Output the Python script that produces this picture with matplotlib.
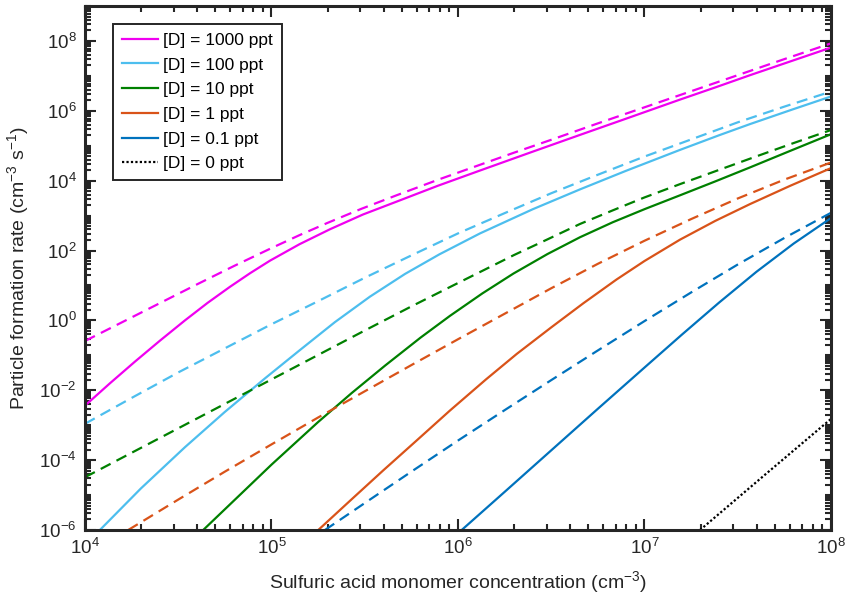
import numpy as np
import matplotlib
matplotlib.use("Agg")
import matplotlib.pyplot as plt
from matplotlib.ticker import LogLocator, NullFormatter

plt.rcParams['font.family'] = ['Liberation Sans', 'DejaVu Sans']
plt.rcParams['mathtext.default'] = 'regular'

# values, stored as log10 (x = H2SO4 conc, y = J)
# [D] = 1000 ppt
lx_1000 = [4.0, 4.134, 4.268, 4.402, 4.536, 4.657, 4.777, 4.885, 4.992, 5.15, 5.314, 5.49,
           5.671, 5.89, 6.118, 6.39, 6.654, 6.92, 7.19, 7.38, 7.566, 7.78, 8.0]
ly_1000 = [-2.44, -1.80, -1.18, -0.58, 0.0, 0.50, 0.96, 1.35, 1.71, 2.18, 2.61, 3.03,
           3.40, 3.85, 4.29, 4.81, 5.31, 5.81, 6.32, 6.67, 7.02, 7.41, 7.81]
lx_1000d = [4.0, 4.2, 4.4, 4.6, 4.8, 5.0, 5.15, 5.3, 5.48, 5.67, 5.9, 6.1, 6.3, 6.5,
            6.75, 7.0, 7.25, 7.5, 7.75, 8.0]
ly_1000d = [-0.59, -0.05, 0.49, 1.03, 1.56, 2.07, 2.44, 2.79, 3.19, 3.58, 4.04, 4.42, 4.80,
            5.17, 5.64, 6.10, 6.56, 7.02, 7.48, 7.93]
# [D] = 100 ppt
lx_100 = [4.08, 4.3, 4.536, 4.75, 4.965, 5.15, 5.34, 5.528, 5.716, 5.9, 6.118, 6.4, 6.654,
          6.9, 7.19, 7.4, 7.566, 7.8, 8.0]
ly_100 = [-6.0, -4.81, -3.63, -2.62, -1.66, -0.86, -0.05, 0.68, 1.33, 1.89, 2.49, 3.18, 3.75,
          4.28, 4.88, 5.30, 5.62, 6.05, 6.41]
lx_100d = [4.0, 4.25, 4.5, 4.75, 5.0, 5.25, 5.5, 5.75, 6.0, 6.25, 6.5, 6.75, 7.0, 7.25,
           7.5, 7.75, 8.0]
ly_100d = [-2.96, -2.22, -1.49, -0.80, -0.11, 0.55, 1.22, 1.86, 2.49, 3.07, 3.64, 4.17, 4.69,
           5.18, 5.67, 6.12, 6.55]
# [D] = 10 ppt
lx_10 = [4.634, 4.82, 5.0, 5.25, 5.43, 5.61, 5.8, 5.957, 6.13, 6.297, 6.48, 6.654, 6.83,
         7.003, 7.19, 7.38, 7.566, 7.78, 8.0]
ly_10 = [-6.0, -5.05, -4.13, -2.91, -2.08, -1.29, -0.49, 0.13, 0.77, 1.34, 1.90, 2.38, 2.81,
         3.19, 3.58, 3.98, 4.38, 4.85, 5.33]
lx_10d = [4.0, 4.25, 4.5, 4.75, 5.0, 5.25, 5.5, 5.75, 6.0, 6.15, 6.3, 6.48, 6.654, 6.83,
          7.0, 7.19, 7.38, 7.566, 7.78, 8.0]
ly_10d = [-4.49, -3.79, -3.09, -2.39, -1.69, -0.99, -0.29, 0.40, 1.07, 1.47, 1.87, 2.32, 2.76,
          3.15, 3.52, 3.90, 4.27, 4.63, 5.04, 5.45]
# [D] = 1 ppt
lx_1 = [5.251, 5.43, 5.6, 5.78, 5.957, 6.15, 6.315, 6.5, 6.672, 6.85, 7.0, 7.19, 7.38,
        7.566, 7.78, 8.0]
ly_1 = [-6.0, -5.12, -4.29, -3.43, -2.58, -1.69, -0.96, -0.20, 0.49, 1.17, 1.70, 2.31, 2.85,
        3.33, 3.85, 4.36]
lx_1d = [4.232, 4.5, 4.75, 5.0, 5.25, 5.5, 5.75, 6.0, 6.25, 6.5, 6.75, 7.0, 7.25, 7.5,
         7.75, 8.0]
ly_1d = [-6.0, -5.13, -4.33, -3.55, -2.78, -2.03, -1.28, -0.54, 0.19, 0.92, 1.62, 2.28, 2.90,
         3.49, 4.03, 4.52]
# [D] = 0.1 ppt
lx_01 = [6.02, 6.25, 6.5, 6.75, 7.0, 7.2, 7.4, 7.6, 7.8, 8.0]
ly_01 = [-6.0, -4.91, -3.72, -2.53, -1.35, -0.41, 0.51, 1.39, 2.20, 2.93]
lx_01d = [5.287, 5.5, 5.75, 6.0, 6.25, 6.5, 6.75, 7.0, 7.25, 7.5, 7.75, 8.0]
ly_01d = [-6.0, -5.23, -4.33, -3.44, -2.57, -1.71, -0.86, -0.02, 0.80, 1.60, 2.36, 3.08]
# [D] = 0 ppt
lx_0 = [7.298, 7.65, 8.0]
ly_0 = [-6.0, -4.4, -2.82]

labels = ['[D] = 1000 ppt', '[D] = 100 ppt', '[D] = 10 ppt',
          '[D] = 1 ppt', '[D] = 0.1 ppt', '[D] = 0 ppt']
colors = ['#F000F0', '#4DBEEE', '#008000', '#D95319', '#0072BD', 'black']

solid = [(lx_1000, ly_1000), (lx_100, ly_100), (lx_10, ly_10),
         (lx_1, ly_1), (lx_01, ly_01)]
dashed = [(lx_1000d, ly_1000d), (lx_100d, ly_100d), (lx_10d, ly_10d),
          (lx_1d, ly_1d), (lx_01d, ly_01d)]

fig = plt.figure(figsize=(8.49, 6.0), dpi=100)
ax = fig.add_axes([0.1001, 0.1167, 0.8787, 0.8733])

lw = 1.6
for i, (lx, ly) in enumerate(solid):
    ax.plot(10.0 ** np.array(lx), 10.0 ** np.array(ly), color=colors[i], lw=lw, label=labels[i])
ax.plot(10.0 ** np.array(lx_0), 10.0 ** np.array(ly_0), color='black', lw=lw,
        linestyle=(0, (1, 1)), label=labels[5])
for i, (lx, ly) in enumerate(dashed):
    ax.plot(10.0 ** np.array(lx), 10.0 ** np.array(ly), color=colors[i], lw=lw,
            linestyle=(0, (5, 3)))

ax.set_xscale('log')
ax.set_yscale('log')
ax.set_xlim(1e4, 1e8)
ax.set_ylim(1e-6, 1e9)
ax.set_xticks([1e4, 1e5, 1e6, 1e7, 1e8])
ax.set_yticks([1e-6, 1e-4, 1e-2, 1e0, 1e2, 1e4, 1e6, 1e8])
ax.xaxis.set_minor_locator(LogLocator(base=10, subs=np.arange(2, 10)))
ax.yaxis.set_minor_locator(LogLocator(base=10, subs=np.arange(1, 10), numticks=30))
ax.xaxis.set_minor_formatter(NullFormatter())
ax.yaxis.set_minor_formatter(NullFormatter())

ax.tick_params(which='both', direction='in', top=True, right=True,
               labelsize=13.5, colors='#262626', width=1.5)
ax.tick_params(which='major', length=8, pad=6)
ax.tick_params(which='minor', length=4)
for s in ax.spines.values():
    s.set_linewidth(2.2)
    s.set_color('#262626')

ax.set_xlabel('Sulfuric acid monomer concentration (cm$^{-3}$)', fontsize=14, color='#262626',
              labelpad=8)
ax.set_ylabel('Particle formation rate (cm$^{-3}$ s$^{-1}$)', fontsize=14, color='#262626',
              labelpad=6)

leg = ax.legend(loc='upper left', bbox_to_anchor=(0.0375, 0.9656), borderaxespad=0,
                fontsize=12.5, handlelength=2.1, handletextpad=0.3, labelspacing=0.55,
                borderpad=0.5, fancybox=False, framealpha=1)
leg.get_frame().set_edgecolor('#262626')
leg.get_frame().set_linewidth(1.4)

fig.savefig('out.png', dpi=100)
